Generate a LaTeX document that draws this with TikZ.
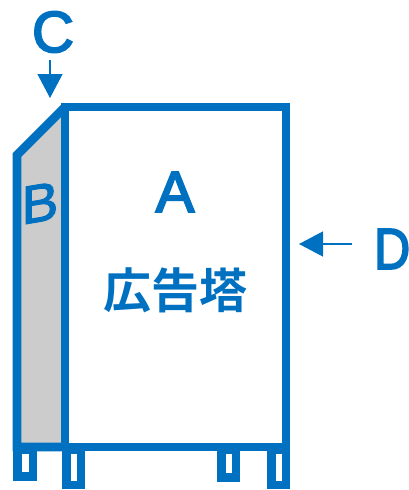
\documentclass[tikz,border=0pt]{standalone}
\usepackage{fontspec}
\setmainfont{Liberation Sans}
\newfontfamily\cjkfont[BoldFont={Noto Sans CJK JP Bold}]{Noto Sans CJK JP}
\newfontfamily\letterfont[FakeBold=3.2]{Liberation Sans}
\newfontfamily\sidefont[FakeBold=2]{Liberation Sans}
\usetikzlibrary{arrows.meta}
\definecolor{towerblue}{RGB}{0,112,192}
\tikzstyle{frameline}=[draw=towerblue,line width=8.6pt,line join=miter]
\tikzstyle{legline}=[draw=towerblue,line width=8.6pt,fill=white]
\tikzstyle{pointer}=[draw=towerblue,line width=1.2pt,-{Triangle[length=24pt,width=25pt]}]
\tikzstyle{letter}=[text=towerblue,inner sep=0pt,font=\fontsize{58}{60}\letterfont]
\begin{document}
\begin{tikzpicture}[x=1pt,y=-1pt]
  \useasboundingbox (0,0) rectangle (409,490);
  %legs
  \draw[legline] (17.5,450) rectangle (33,476.5);
  \draw[legline] (66.5,450) rectangle (81,485);
  \draw[legline] (221.5,450) rectangle (236,477.5);
  \draw[legline] (271.5,450) rectangle (286,485);
  %side panel
  \fill[black!20] (17,155) -- (65,107) -- (65,447) -- (17,447) -- cycle;
  \draw[frameline] (65,107) -- (17,155) -- (17,447) -- (65,447);
  %front
  \draw[frameline] (65,107) rectangle (286,447);
  %labels
  \node[letter] (lblA) at (175,192) {A};
  \node[letter,yslant=0.17,xscale=1.02,font=\fontsize{54}{56}\sidefont] (lblB) at (40,203) {B};
  \node[letter] (lblC) at (53,32) {C};
  \node[letter,anchor=west,xscale=0.86] (lblD) at (374,249) {D};
  \node[text=towerblue,inner sep=0pt,font=\fontsize{48}{50}\cjkfont\bfseries] (lblname) at (175,290) {広告塔};
  %arrows
  \coordinate (tipC) at (50,98);
  \coordinate (startC) at (50,60);
  \coordinate (tipD) at (299,244);
  \coordinate (startD) at (352,244);
  \draw[pointer] (startC) -- (tipC);
  \draw[pointer] (startD) -- (tipD);
\end{tikzpicture}
\end{document}
